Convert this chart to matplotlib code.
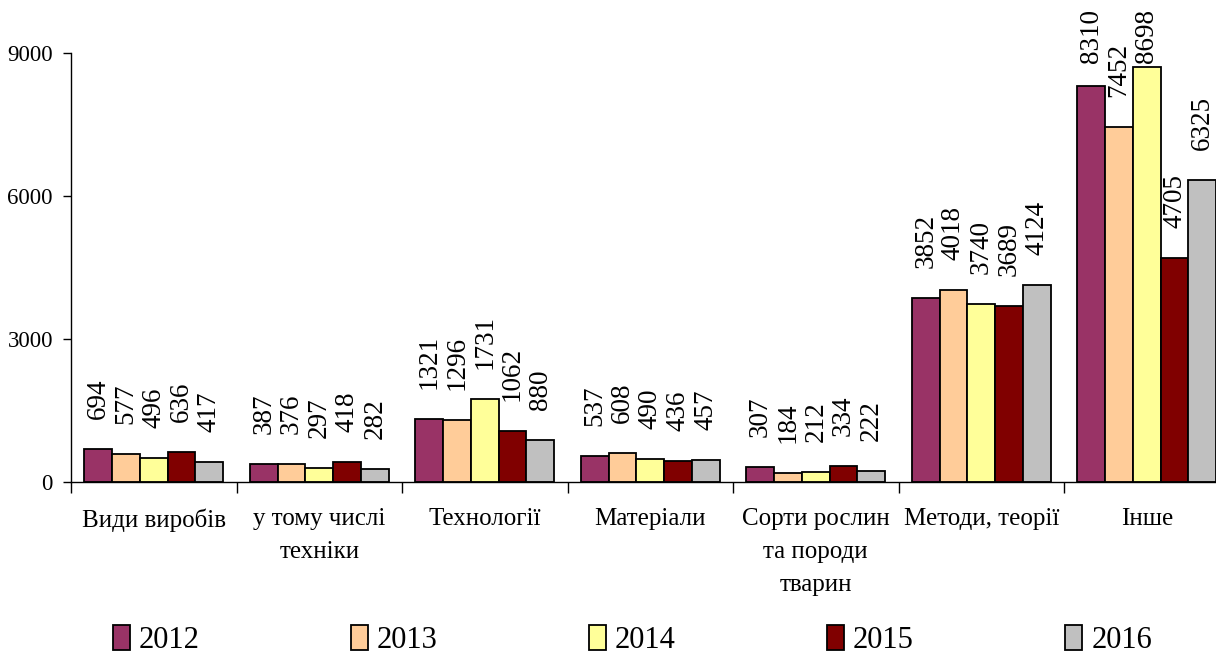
import numpy as np
import matplotlib.pyplot as plt

plt.rcParams['font.family'] = ['Liberation Serif', 'DejaVu Serif']

categories = ['Види виробів', 'у тому числі\nтехніки', 'Технології', 'Матеріали',
              'Сорти рослин\nта породи\nтварин', 'Методи, теорії', 'Інше']
years = ['2012', '2013', '2014', '2015', '2016']
v2012 = [694, 387, 1321, 537, 307, 3852, 8310]
v2013 = [577, 376, 1296, 608, 184, 4018, 7452]
v2014 = [496, 297, 1731, 490, 212, 3740, 8698]
v2015 = [636, 418, 1062, 436, 334, 3689, 4705]
v2016 = [417, 282, 880, 457, 222, 4124, 6325]
series = [v2012, v2013, v2014, v2015, v2016]
colors = ['#993366', '#FFCC99', '#FFFF99', '#800000', '#C0C0C0']
yticks = [0, 3000, 6000, 9000]


def label_bottom(value, gap=630, length=1217, cap=10007):
    # підписи, що не влазять зверху, зсуваються вниз (як в Excel)
    bottom = min(value + gap, cap - length)
    return max(bottom, value)


fig = plt.figure(figsize=(12.16, 6.54), dpi=100)
ax = fig.add_axes([0.0584, 0.263, 0.9527, 0.656])

n = len(series)
width = 0.168
x = np.arange(len(categories)) + 0.5
for i, (vals, c, yr) in enumerate(zip(series, colors, years)):
    xs = x + (i - (n - 1) / 2) * width
    ax.bar(xs, vals, width=width, color=c, edgecolor='black', linewidth=1.3, label=yr)
    for xi, v in zip(xs, vals):
        ax.text(xi, label_bottom(v), str(v), rotation=90, ha='center', va='bottom',
                fontsize=19.5, clip_on=False)

ax.set_xlim(0, len(categories))
ax.set_ylim(0, 9000)
ax.set_yticks(yticks)
ax.set_yticklabels([str(t) for t in yticks], fontsize=16.5)
ax.set_xticks(np.arange(len(categories) + 1))
ax.set_xticklabels([])
ax.set_xticks(x, minor=True)
ax.set_xticklabels(categories, minor=True, fontsize=18, linespacing=1.65, va='top')
ax.tick_params(axis='x', which='major', length=8, direction='out', width=1)
ax.tick_params(axis='x', which='minor', length=0, pad=19)
ax.tick_params(axis='y', length=6, direction='out', width=1, pad=7)
for s in ['top', 'right']:
    ax.spines[s].set_visible(False)
for s in ['left', 'bottom']:
    ax.spines[s].set_linewidth(1)

ax.legend(loc='center', bbox_to_anchor=(0.52, 0.022), bbox_transform=fig.transFigure,
          ncol=5, frameon=False, fontsize=22, handlelength=0.55, handleheight=0.9,
          handletextpad=0.3, columnspacing=4.95, borderaxespad=0)

fig.savefig('out.png', dpi=100)
